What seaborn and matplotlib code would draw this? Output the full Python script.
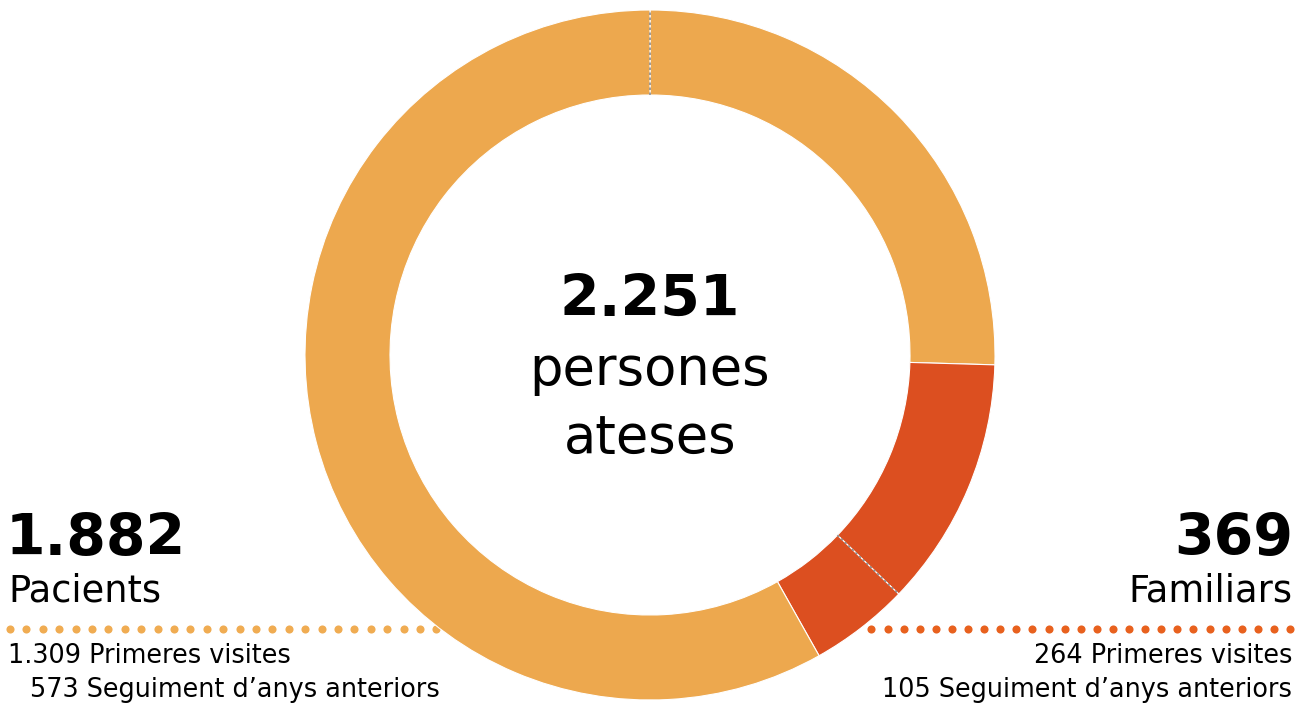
import numpy as np
import matplotlib
matplotlib.use("Agg")
import matplotlib.pyplot as plt
import seaborn as sns

# ---- data ----
segments = ["Pacients - Seguiment", "Familiars - Primeres", "Familiars - Seguiment", "Pacients - Primeres"]
values = [573, 264, 105, 1309]
groups = ["Pacients", "Familiars", "Familiars", "Pacients"]
total_label = "2.251"
pacients_total = "1.882"
familiars_total = "369"
pac_lines = ["1.309 Primeres visites", "573 Seguiment d\u2019anys anteriors"]
fam_lines = ["264 Primeres visites", "105 Seguiment d\u2019anys anteriors"]

ORANGE = "#EDA84E"
RED = "#DC4F20"
DOT_ORANGE = "#F0AC52"
DOT_RED = "#E8611E"
color_map = {"Pacients": ORANGE, "Familiars": RED}

sns.set_theme(style="white")
plt.rcParams["font.family"] = ["DejaVu Sans"]

W, H = 1306, 704
fig = plt.figure(figsize=(W / 100, H / 100), dpi=100)
ax = fig.add_axes([0, 0, 1, 1])

cx, cy = 650, H - 355
R, ring = 345, 85

# dotted separators (behind donut)
yd = H - 629
xs_left = np.arange(10, 486, 16.4)
xs_right = np.arange(1290, 858, -16.1)
ax.scatter(xs_left, np.full_like(xs_left, yd), s=34, color=DOT_ORANGE, zorder=1, linewidths=0)
ax.scatter(xs_right, np.full_like(xs_right, yd), s=34, color=DOT_RED, zorder=1, linewidths=0)

wedges, _ = ax.pie(values, colors=[color_map[g] for g in groups], startangle=90,
                   counterclock=False, center=(cx, cy), radius=R,
                   wedgeprops=dict(width=ring, edgecolor="white", linewidth=0.8),
                   frame=True)
for w in wedges:
    w.set_zorder(2)
ax.set_xlim(0, W)
ax.set_ylim(0, H)
ax.set_aspect("equal")
ax.axis("off")

# grey dashed boundaries at start and between the two familiars segments
cum = np.cumsum([0] + values) / sum(values)
for frac in [cum[0], cum[2]]:
    ang = np.deg2rad(90 - 360 * frac)
    r0, r1 = R - ring, R
    ax.plot([cx + r0 * np.cos(ang), cx + r1 * np.cos(ang)],
            [cy + r0 * np.sin(ang), cy + r1 * np.sin(ang)],
            color="#8E8E8E", lw=1.2, ls=(0, (1.5, 1.5)), zorder=3)

BIG, MID, SMALL, SUB = 41, 38, 26.5, 18.4
kw = dict(va="baseline", color="black")

# center text
ax.text(cx, H - 316, total_label, ha="center", fontsize=BIG, fontweight="bold", **kw)
ax.text(cx, H - 385, "persones", ha="center", fontsize=MID, **kw)
ax.text(cx, H - 454, "ateses", ha="center", fontsize=MID, **kw)

# left block
ax.text(6, H - 555, pacients_total, ha="left", fontsize=BIG, fontweight="bold", **kw)
ax.text(8, H - 602, "Pacients", ha="left", fontsize=SMALL, **kw)
ax.text(8, H - 663, pac_lines[0], ha="left", fontsize=SUB, **kw)
ax.text(30, H - 697, pac_lines[1], ha="left", fontsize=SUB, **kw)

# right block
ax.text(1293, H - 555, familiars_total, ha="right", fontsize=BIG, fontweight="bold", **kw)
ax.text(1292, H - 602, "Familiars", ha="right", fontsize=SMALL, **kw)
ax.text(1292, H - 663, fam_lines[0], ha="right", fontsize=SUB, **kw)
ax.text(1292, H - 697, fam_lines[1], ha="right", fontsize=SUB, **kw)

fig.savefig("out.png", dpi=100, facecolor="white")
